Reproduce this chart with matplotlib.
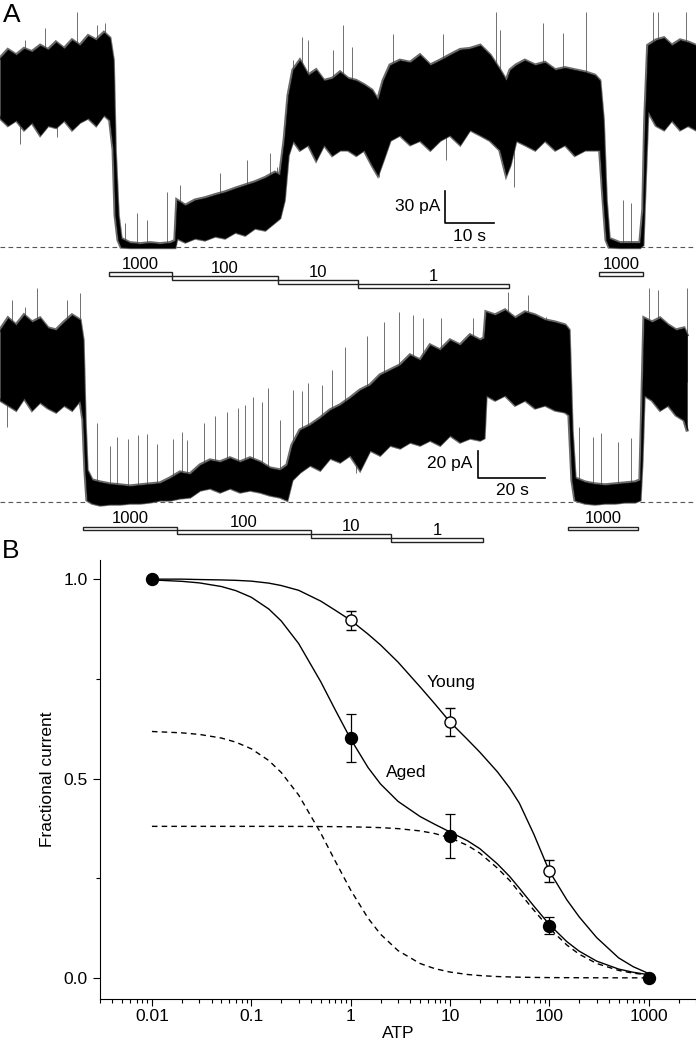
# %% Libs:
import numpy as np
import matplotlib
matplotlib.use('Agg')
import matplotlib.pyplot as plt
from matplotlib import ticker
from matplotlib.patches import Rectangle

plt.rcParams['font.family'] = ['Liberation Sans', 'DejaVu Sans']

# %% Data: panel A traces, (time [s], upper envelope [pA], lower envelope [pA])
young_trace = [
    (0, 177, 121), (1.6, 185, 114), (3.3, 180, 119), (4.9, 186, 110), (6.5, 183, 117),
    (8.2, 189, 105), (9.8, 185, 114), (11.4, 192, 112), (13.1, 186, 119), (14.7, 194, 110),
    (16.3, 189, 117), (18.0, 198, 121), (19.6, 194, 114), (21.2, 201, 124), (22.4, 196, 119),
    (23.1, 175, 91), (23.5, 91, 30), (24.1, 30, 6.6), (24.7, 8, 0), (26.5, 4, -0.5),
    (28.6, 3, -0.5), (30.6, 4, -0.5), (32.7, 3, -0.5), (34.7, 4, -0.5), (35.7, 6, -0.5),
    (36.1, 44, 8.4), (37.8, 39, 4.7), (39.8, 44, 8.4), (41.8, 46, 6.6), (43.9, 49, 10.3),
    (45.9, 51.5, 8.4), (48.0, 55, 14), (50.0, 58, 11.2), (52.0, 61, 17.8), (54.1, 65, 15.9),
    (56.1, 70, 23.4), (57.1, 67.5, 27.2), (58.0, 100, 44), (58.8, 142, 86), (59.8, 166, 100),
    (61.2, 175, 91), (62.9, 161, 96), (64.5, 166, 81.5), (66.1, 156, 96), (67.8, 158, 86),
    (69.4, 164, 91), (71.0, 158, 91), (72.7, 156, 86), (74.3, 152, 91), (75.9, 147, 77),
    (77.1, 138, 67.5), (78.2, 156, 81.5), (79.6, 170.5, 100), (81.6, 175, 105), (83.7, 173, 96),
    (85.7, 180, 100), (87.8, 170.5, 91), (89.8, 175, 100), (91.8, 180, 105), (93.9, 185, 96),
    (95.9, 186, 110), (98.0, 189, 105), (100.0, 180, 100), (102.0, 166, 91), (103.3, 156, 67.5),
    (104.1, 166, 77), (105.3, 170.5, 100), (107.1, 175, 96), (109.2, 170.5, 91), (111.2, 173, 100),
    (113.3, 166, 91), (115.3, 168, 96), (117.3, 166, 86), (119.4, 164, 91), (121.4, 161, 91),
    (122.4, 156, 91), (123.1, 119, 44), (123.7, 44, 6.6), (124.3, 8, 0), (126.5, 4, -0.5),
    (128.6, 4, -0.5), (130.6, 4, -0.5), (131.2, 34.7, 1.9), (131.6, 119, 53), (132.2, 189, 128),
    (133.9, 194, 114), (135.5, 196, 110), (137.1, 189, 119), (138.8, 194, 110), (140.4, 192, 114),
    (142.0, 189, 110),
]
# (time [s], spike tip [pA])
young_spikes = [
    (5.1, 194), (9.2, 205), (15.7, 220), (19.8, 208), (21.4, 210), (4.1, 97), (11.6, 103),
    (25.5, 22.5), (28.0, 31.9), (30.0, 25.3), (34.1, 51.5), (36.7, 58), (44.9, 69.4),
    (50.4, 81.5), (55.1, 88), (56.5, 75), (59.8, 175), (61.6, 197), (62.9, 194), (68.0, 185),
    (70.0, 208), (71.8, 187), (80.2, 200), (90.4, 200), (101.2, 220), (102.0, 203),
    (110.8, 210), (114.9, 201), (119.6, 220), (127.1, 44), (128.8, 41), (133.3, 220),
    (134.3, 220), (140.0, 220), (77.3, 66), (91.0, 81.5), (104.9, 56),
]

aged_trace = [
    (0, 124, 73.4), (2.4, 132.6, 69.8), (4.8, 127.6, 66.2), (7.2, 134.8, 74.9), (9.6, 129.7, 66.2),
    (12.0, 132.6, 72), (14.4, 125.4, 67.7), (16.8, 124, 64.8), (19.2, 129.7, 69.8), (21.6, 134.8, 66.2),
    (24.0, 131.2, 73.4), (24.9, 116.7, 59), (25.5, 59, 22.9), (26.1, 22.9, 1.2), (27.6, 15.7, -1),
    (30.0, 14.2, -2.4), (33.0, 12.8, -1.7), (36.0, 12.1, -1.7), (39.0, 11.3, -1), (42.0, 12.1, -1),
    (45.0, 12.8, -0.2), (48.0, 13.5, 1.2), (51.0, 17.1, 1.2), (54.0, 21.4, 2.7), (57.0, 20, 3.4),
    (60.0, 26.5, 8.4), (63.0, 30.1, 9.9), (66.0, 28.7, 7), (69.0, 31.6, 9.9), (72.0, 28.7, 7),
    (75.0, 31.6, 8.4), (78.0, 28.7, 7), (81.0, 24.3, 4.8), (84.0, 22.9, 3.4), (86.1, 26.5, 1.2),
    (87.6, 40.9, 15.7), (90.0, 51.8, 21.4), (93.0, 55.4, 26.5), (96.0, 60.4, 22.9), (99.0, 66.2, 31.6),
    (102.0, 69.8, 28.7), (105.0, 74.9, 33.7), (108.0, 80.6, 22.9), (111.0, 84.2, 37.3), (114.0, 91.5, 33.7),
    (117.0, 95.1, 40.9), (120.0, 98.7, 38.8), (123.0, 105.9, 43.1), (126.0, 102.3, 40.9), (129.0, 113.1, 44.5),
    (132.0, 109.5, 40.9), (135.0, 116.7, 48.1), (138.0, 113.1, 43.1), (141.0, 120.4, 46), (144.0, 116.7, 44.5),
    (145.2, 118.2, 46), (145.8, 137, 77), (148.5, 134.8, 73.4), (151.5, 138.4, 77), (154.5, 132.6, 69.8),
    (157.5, 137, 73.4), (160.5, 134.8, 67.7), (163.5, 131.2, 69.8), (166.5, 129.7, 66.2), (169.5, 127.6, 64.8),
    (170.7, 124, 62.6), (171.6, 51.8, 15.7), (172.5, 17.1, 1.2), (175.5, 14.2, -1), (178.5, 12.8, -1.7),
    (181.5, 12.1, -1), (184.5, 12.8, -1), (187.5, 13.5, -0.2), (190.5, 14.2, -0.2), (192.0, 15.7, 1.2),
    (192.6, 73.4, 30.1), (193.2, 132.6, 77), (195.6, 129.7, 73.4), (198.0, 132.6, 66.2), (200.4, 127.6, 69.8),
    (202.8, 124, 62.6), (205.2, 125.4, 59), (206.1, 120.4, 51.8),
]
aged_spikes = [
    (3.6, 145.5), (7.5, 140.5), (11.1, 154.2), (20.1, 145.5), (24.0, 150.6), (2.1, 53.9),
    (29.1, 56.8), (33.0, 40), (35.1, 46.7), (38.5, 45), (41.4, 48.2), (44.1, 48.9), (47.0, 42),
    (51.9, 45.3), (54.5, 50), (56.1, 44.5), (61.2, 56.8), (64.5, 62), (68.1, 64.8), (71.4, 67.6),
    (73.5, 70), (75.9, 75.6), (78.5, 72), (80.4, 82.1), (84.0, 59), (87.9, 80.6), (90.5, 80),
    (92.4, 85.7), (96.6, 84.2), (99.5, 95), (103.5, 111.7), (110.0, 120), (115.2, 129.8),
    (119.7, 137), (124.0, 135), (126.9, 132.6), (132.3, 132.6), (141.9, 132.6), (143.7, 114.6),
    (152.4, 151.4), (158.4, 149.2), (163.8, 133.3), (167.7, 121.8), (173.7, 53.9), (177.9, 46.7),
    (180.3, 49.6), (185.4, 43.1), (189.3, 46), (194.7, 154.2), (197.4, 152.9), (206.1, 154.2),
    (106.8, 20.7),
]

# ATP applications (start [s], end [s]), label, step level
young_periods = [(22.3, 35.0), (35.0, 56.7), (56.7, 73.0), (73.0, 103.9), (122.2, 131.2)]
aged_periods = [(25.0, 53.2), (53.2, 93.2), (93.2, 117.3), (117.3, 145.0), (170.5, 191.5)]
period_labels = ['1000', '100', '10', '1', '1000']
period_levels = [0, 1, 2, 3, 0]

# %% Data: panel B dose-response
atp_pts = [0.01, 1, 10, 100, 1000]
aged_mean = [1.0, 0.602, 0.356, 0.131, 0.0]
aged_sem = [0, 0.06, 0.055, 0.022, 0]
young_x = [1, 10, 100]
young_mean = [0.897, 0.642, 0.268]
young_sem = [0.024, 0.035, 0.027]

fit_x = [0.01, 0.02, 0.03, 0.05, 0.07, 0.1, 0.15, 0.2, 0.3, 0.5, 0.7, 1, 1.5, 2, 3, 5, 7,
         10, 15, 20, 30, 40, 50, 70, 100, 150, 200, 300, 500, 700, 1000]
young_fit = [1.0, 1.0, 0.999, 0.998, 0.997, 0.995, 0.99, 0.984, 0.972, 0.945, 0.922, 0.897,
             0.862, 0.835, 0.792, 0.73, 0.688, 0.642, 0.598, 0.566, 0.517, 0.476, 0.438,
             0.36, 0.268, 0.196, 0.153, 0.101, 0.05, 0.028, 0.011]
aged_fit = [0.998, 0.9945, 0.9906, 0.9815, 0.9711, 0.9546, 0.9251, 0.8953, 0.8384, 0.7429,
            0.6723, 0.5993, 0.5273, 0.4863, 0.4427, 0.4047, 0.3854, 0.366, 0.344, 0.324,
            0.286, 0.254, 0.225, 0.18, 0.134, 0.091, 0.067, 0.042, 0.022, 0.014, 0.008]
aged_high = [0.6179, 0.6145, 0.6106, 0.6015, 0.5911, 0.5746, 0.5451, 0.5153, 0.4585, 0.3634,
             0.293, 0.2205, 0.1495, 0.1095, 0.0684, 0.0361, 0.0233, 0.0146, 0.0085, 0.0058,
             0.0033, 0.0023, 0.0017, 0.0011, 0.0007, 0.0005, 0.0003, 0.0002, 0.0001, 0.0001, 0.0]
aged_low = [0.38, 0.38, 0.38, 0.38, 0.38, 0.38, 0.38, 0.3799, 0.3798, 0.3795, 0.3793, 0.3788,
            0.3778, 0.3768, 0.3743, 0.3686, 0.3621, 0.3514, 0.3323, 0.3128, 0.2755, 0.2442,
            0.2141, 0.1696, 0.1248, 0.0825, 0.0594, 0.0361, 0.0186, 0.0118, 0.0073]

# %% Figure
W, H = 696, 1048
fig = plt.figure(figsize=(W / 100, H / 100), dpi=100)


def draw_trace(ax, trace, spikes, periods, bar_top, bar_step, bar_h):
    arr = np.array(trace, dtype=float)
    t, hi, lo = arr[:, 0], arr[:, 1], arr[:, 2]
    ax.axhline(0, color='#555555', lw=0.8, ls=(0, (4.2, 3)), zorder=1)
    # soft grey fringe under the black band
    ax.plot(t, hi, color='#6a6a6a', lw=2.4, zorder=1.5, solid_joinstyle='miter')
    ax.plot(t, lo, color='#6a6a6a', lw=2.4, zorder=1.5, solid_joinstyle='miter')
    ax.fill_between(t, lo, hi, color='black', lw=0.3, zorder=2)
    sp = np.array(spikes, dtype=float)
    base = np.interp(sp[:, 0], t, (hi + lo) / 2)
    ax.vlines(sp[:, 0], base, sp[:, 1], color='#4a4a4a', lw=0.55, zorder=1.8)
    for (t0, t1), lab, lev in zip(periods, period_labels, period_levels):
        top = bar_top - lev * bar_step
        ax.add_patch(Rectangle((t0, top - bar_h), t1 - t0, bar_h, fc='white',
                               ec='#222222', lw=1.0, zorder=3))
        ax.annotate(lab, ((t0 + t1) / 2, top), xytext=(0, 2.4), textcoords='offset points',
                    ha='center', va='baseline', fontsize=12)
    ax.axis('off')


# Young trace: 4.9 px/s, 1.067 px/pA, baseline at y=247 px
axA1 = fig.add_axes([0, 1 - 295 / H, 1, 295 / H])
axA1.set_xlim(0, W / 4.9)
axA1.set_ylim(-48 / 1.067, 247 / 1.067)
draw_trace(axA1, young_trace, young_spikes, young_periods, -23.4, 3.75, 3.9)
axA1.plot([90.8, 90.8, 100.9], [52.8, 22.8, 22.8], color='black', lw=1.2)
axA1.text(89.8, 37.8, '30 pA', ha='right', va='center', fontsize=12.5)
axA1.text(95.9, 10.3, '10 s', ha='center', va='center', fontsize=12.5)

# Aged trace: 3.333 px/s, 1.385 px/pA, baseline at y=501.7 px
axA2 = fig.add_axes([0, 1 - 548 / H, 1, 263 / H])
axA2.set_facecolor('none')
axA2.set_xlim(0, W * 0.3)
axA2.set_ylim(-46.3 / 1.385, 216.7 / 1.385)
draw_trace(axA2, aged_trace, aged_spikes, aged_periods, -18.05, 2.74, 2.7)
axA2.plot([143.5, 143.5, 163.5], [36.8, 16.9, 16.9], color='black', lw=1.2)
axA2.text(141.8, 27.9, '20 pA', ha='right', va='center', fontsize=12.5)
axA2.text(153.8, 8.4, '20 s', ha='center', va='center', fontsize=12.5)

fig.text(3 / W, 1 - 22 / H, 'A', fontsize=19, va='baseline', ha='left')
fig.text(2 / W, 1 - 558 / H, 'B', fontsize=19, va='baseline', ha='left')

# %% Panel B
axB = fig.add_axes([100 / W, 1 - 999 / H, 596 / W, 439 / H])
axB.set_xscale('log')
axB.set_xlim(0.003, 3000)
axB.set_ylim(-0.053, 1.048)

axB.plot(fit_x, young_fit, color='black', lw=1.0, zorder=2)
axB.plot(fit_x, aged_fit, color='black', lw=1.0, zorder=2)
axB.plot(fit_x, aged_high, color='black', lw=1.0, ls=(0, (4, 3)), zorder=2)
axB.plot(fit_x, aged_low, color='black', lw=1.0, ls=(0, (4, 3)), zorder=2)

axB.errorbar(young_x, young_mean, yerr=young_sem, fmt='o', ms=8, mfc='white', mec='black',
             mew=1.0, ecolor='black', elinewidth=0.9, capsize=3.5, capthick=0.9, zorder=4)
axB.errorbar(atp_pts, aged_mean, yerr=aged_sem, fmt='o', ms=8.6, mfc='black', mec='black',
             ecolor='black', elinewidth=0.9, capsize=3.5, capthick=0.9, zorder=5)

axB.text(10.3, 0.742, 'Young', ha='center', va='center', fontsize=12.5)
axB.text(3.63, 0.516, 'Aged', ha='center', va='center', fontsize=12.5)

for s in ['top', 'right']:
    axB.spines[s].set_visible(False)
for s in ['left', 'bottom']:
    axB.spines[s].set_linewidth(0.8)

axB.set_xticks([0.01, 0.1, 1, 10, 100, 1000])
axB.xaxis.set_major_formatter(ticker.FuncFormatter(lambda v, p: f'{v:g}'))
axB.xaxis.set_minor_locator(ticker.LogLocator(base=10, subs=np.arange(2, 10)))
axB.xaxis.set_minor_formatter(ticker.NullFormatter())
axB.set_yticks([0.0, 0.5, 1.0])
axB.set_yticklabels(['0.0', '0.5', '1.0'])
axB.set_yticks([0.25, 0.75], minor=True)
axB.tick_params(axis='both', which='major', direction='out', length=5, width=0.8,
                labelsize=12.5)
axB.tick_params(axis='both', which='minor', direction='out', length=2.8, width=0.8)
axB.tick_params(axis='x', which='major', pad=2.5)
axB.tick_params(axis='y', which='major', pad=4)
axB.set_xlabel('ATP', fontsize=12.5, labelpad=1.5)
axB.set_ylabel('Fractional current', fontsize=12.5, labelpad=6)

fig.savefig('out.png', dpi=100)
